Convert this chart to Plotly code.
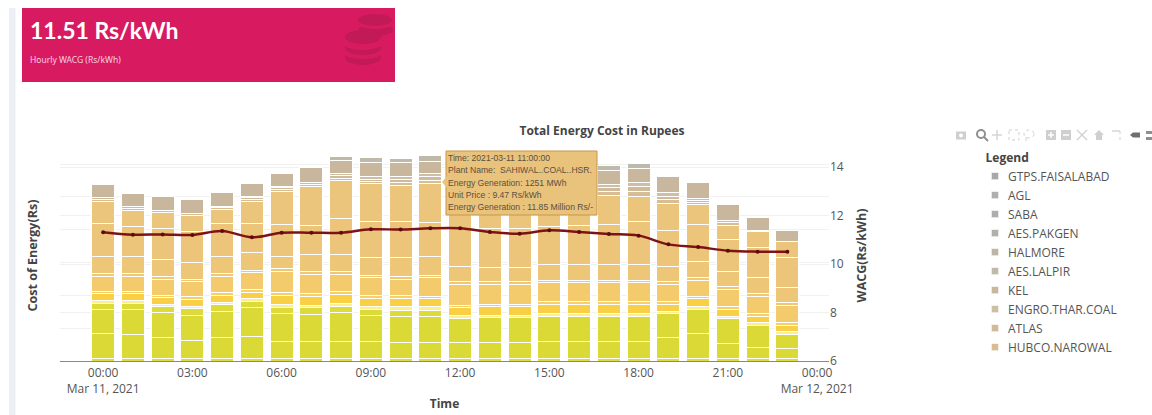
import pandas as pd
import plotly.graph_objects as go

# Page geometry in pixels
W, H = 1152, 415
L, R, T, B = 60, 829, 150, 361


def xp(px):
    return (px - L) / (R - L)


def yp(py):
    return (B - py) / (B - T)


hours = list(pd.date_range("2021-03-11 00:00", periods=24, freq="h"))

# Hourly weighted average cost of generation, Rs/kWh
wacg = [11.31, 11.21, 11.22, 11.20, 11.36, 11.10, 11.29, 11.29, 11.29, 11.43, 11.42, 11.47,
        11.47, 11.32, 11.25, 11.39, 11.32, 11.24, 11.17, 10.81, 10.70, 10.55, 10.51, 10.51]

# Hourly energy cost per plant, Million Rs, stack order bottom to top
base_a = [0.81] * 24
base_b = [7.51, 7.31, 6.29, 5.58, 6.29, 6.80, 5.28, 5.28, 5.28, 5.08, 4.77, 4.77,
          4.77, 4.77, 4.77, 5.28, 5.28, 5.28, 5.28, 6.29, 7.51, 4.57, 3.25, 3.05]
base_c = [7.41, 7.61, 7.61, 7.61, 8.12, 8.63, 8.32, 8.12, 8.63, 7.82, 8.12, 8.12,
          7.51, 7.61, 7.61, 7.41, 7.41, 7.41, 7.41, 7.31, 7.31, 7.51, 6.90, 4.26]
base_d = [1.83, 1.83, 1.83, 2.03, 1.93, 1.83, 2.03, 2.03, 2.03, 1.83, 1.73, 1.83,
          0, 0, 0, 0, 0, 0, 0, 0, 0, 0, 0, 0]
pale = [0.91, 0.91, 0.71, 0.71, 0.81, 1.02, 0.81, 0.81, 0.71, 0.91, 1.02, 1.02,
        0.71, 0.81, 0.81, 1.02, 1.02, 1.02, 1.02, 0.61, 0.91, 0.81, 0.71, 0.81]
gold = [2.03, 2.03, 2.03, 2.03, 2.03, 1.73, 2.84, 2.74, 2.84, 2.64, 2.64, 2.44,
        2.44, 2.54, 2.54, 2.74, 2.74, 2.74, 2.74, 2.23, 2.44, 2.03, 2.03, 2.03]
thin_a = [0.81] * 24
amber = [4.57, 4.57, 4.77, 4.57, 5.08, 5.28, 6.50, 5.79, 5.28, 5.48, 4.97, 5.58,
         6.29, 5.99, 5.99, 5.79, 5.79, 5.79, 5.79, 5.28, 4.87, 5.28, 5.28, 5.28]
thin_b = [0.81] * 24
sand_a = [5.08, 5.28, 5.28, 4.97, 5.28, 5.28, 3.76, 5.28, 5.28, 5.28, 5.79, 5.79,
          4.77, 4.47, 4.47, 4.77, 4.77, 4.77, 4.77, 4.77, 4.97, 4.77, 4.77, 4.47]
sand_b = [10.15, 9.14, 9.44, 9.64, 9.85, 8.93, 9.64, 8.83, 10.86, 11.17, 11.17, 10.15,
          11.47, 11.78, 11.78, 11.68, 11.98, 12.18, 13.20, 10.86, 11.17, 9.64, 9.14, 9.14]
sahiwal = [6.60, 4.87, 4.77, 4.77, 4.37, 6.60, 9.95, 11.78, 11.68, 11.37, 10.96, 11.85,
           11.90, 11.80, 11.70, 11.60, 11.00, 8.83, 7.61, 8.12, 6.09, 4.26, 4.87, 4.87]
hubco_narowal = [0.70, 0.60, 0.71, 0.71, 0.60, 0.70, 0.70, 0.70, 0.70, 0.70, 0.90, 1.10,
                 0.90, 0.90, 0.90, 0.90, 0.90, 1.20, 1.50, 1.20, 0.70, 0.80, 0.41, 0.20]
atlas = [0.52, 0.42, 0, 0, 0.42, 0.50, 0.50, 0.72, 0.70, 0.70, 0.80, 1.00,
         0.90, 0.80, 0.80, 0.80, 0.80, 1.10, 1.40, 1.10, 0.60, 0.72, 0, 0]
engro_thar = [0, 0, 0, 0, 0, 0.53, 0.53, 0, 0.63, 0.73, 0.84, 0.95,
              0.80, 0.80, 0.80, 0.80, 0.80, 1.05, 1.26, 1.05, 0.53, 0, 0, 0]
kel = [3.96, 3.96, 4.26, 4.26, 4.26, 3.85, 3.96, 4.36, 4.06, 4.26, 4.26, 3.85,
       4.26, 4.26, 4.26, 4.26, 4.26, 4.26, 4.16, 4.97, 4.97, 4.87, 3.85, 3.25]
aes_lalpir = [0, 0, 0, 0, 0, 0, 0, 0, 1.32, 1.52, 1.22, 1.73,
              1.50, 1.50, 1.50, 1.50, 1.50, 1.52, 1.52, 0, 0, 0, 0, 0]
halmore = [0] * 24
aes_pakgen = [0] * 24
saba = [0] * 24
agl = [0] * 24
gtps_faisalabad = [0] * 24

# name, values, colour, listed in the legend
stack = [
    ("Base 1", base_a, "#dcdb3e", False),
    ("Base 2", base_b, "#dad935", False),
    ("Base 3", base_c, "#dad935", False),
    ("Base 4", base_d, "#dcdb3a", False),
    ("Mid 1", pale, "#fdf08c", False),
    ("Mid 2", gold, "#f9cf45", False),
    ("Mid 3", thin_a, "#f6d066", False),
    ("Mid 4", amber, "#f3ca6c", False),
    ("Mid 5", thin_b, "#f0c874", False),
    ("Mid 6", sand_a, "#eec678", False),
    ("Mid 7", sand_b, "#ecc57b", False),
    ("SAHIWAL..COAL..HSR.", sahiwal, "#ebc57c", False),
    ("HUBCO.NAROWAL", hubco_narowal, "#d6bd95", True),
    ("ATLAS", atlas, "#cfba9b", True),
    ("ENGRO.THAR.COAL", engro_thar, "#cdbfa5", True),
    ("KEL", kel, "#c8b69d", True),
    ("AES.LALPIR", aes_lalpir, "#bfb9a9", True),
    ("HALMORE", halmore, "#bdb6a8", True),
    ("AES.PAKGEN", aes_pakgen, "#b2b0ab", True),
    ("SABA", saba, "#adadaa", True),
    ("AGL", agl, "#aeaeae", True),
    ("GTPS.FAISALABAD", gtps_faisalabad, "#a8a8a8", True),
]

fig = go.Figure()
for name, values, colour, listed in stack:
    fig.add_bar(x=hours, y=values, name=name, showlegend=listed,
                marker=dict(color=colour, line=dict(color="white", width=1)))

fig.add_scatter(x=hours, y=wacg, yaxis="y2", mode="lines+markers", name="WACG", showlegend=False,
                line=dict(color="#7d1315", width=2.5, shape="spline"),
                marker=dict(color="#5c0c0e", size=4))

CARD = "#d81b60"
COIN = "#c21a56"


def flat(kind, x0, x1, y0, y1, colour, layer="below"):
    return dict(type=kind, xref="paper", yref="paper", layer=layer, x0=xp(x0), x1=xp(x1),
                y0=yp(y0), y1=yp(y1), fillcolor=colour, line=dict(width=0))


def stroke(points, colour, width=1.3, dash="solid", close=False, fill=None):
    d = " ".join(("M" if i == 0 else "L") + f" {xp(px)} {yp(py)}" for i, (px, py) in enumerate(points))
    shape = dict(type="path", xref="paper", yref="paper", layer="above", path=d + (" Z" if close else ""),
                 line=dict(color=colour, width=width, dash=dash))
    if fill:
        shape.update(fillcolor=fill, line=dict(width=0))
    return shape


shapes = [flat("rect", 9, 15.5, 8, 415, "#ecf0f5"), flat("rect", 22, 395, 8, 82, CARD)]

# Coin stacks inside the card: the rear stack first, then the front one
shapes += [
    flat("circle", 358, 393, 24, 36, COIN), flat("circle", 358, 393, 19, 29, CARD),
    flat("circle", 358, 392, 14, 26, COIN),
    flat("circle", 345, 381, 50, 65, COIN), flat("rect", 345, 381, 54, 58, COIN),
    flat("circle", 344, 382, 47, 59, CARD),
    flat("circle", 345, 381, 41, 55, COIN), flat("rect", 345, 381, 45, 49, COIN),
    flat("circle", 344, 382, 38, 50, CARD),
    flat("circle", 345, 381, 30, 44, COIN),
]

# Hover box with its pointer
shapes += [
    dict(type="rect", xref="paper", yref="paper", layer="above", x0=xp(446), x1=xp(597), y0=yp(151), y1=yp(215),
         fillcolor="#e9c27c", line=dict(color="#c9964a", width=1)),
    stroke([(447, 176), (442, 182), (447, 188)], "", close=True, fill="#e9c27c"),
]

# Toolbar icons along the top of the legend column
ICON = "#cfcfcf"
ACTIVE = "#8f8f8f"
shapes += [
    # camera
    flat("rect", 956, 966, 131.5, 139.5, ICON, "above"), flat("circle", 959, 963, 133.5, 137.5, "white", "above"),
    # magnifier (active)
    dict(type="circle", xref="paper", yref="paper", layer="above", x0=xp(977), x1=xp(985), y0=yp(130), y1=yp(138),
         fillcolor="white", line=dict(color=ACTIVE, width=2)),
    stroke([(984, 137), (988, 141)], ACTIVE, 2),
    # pan
    stroke([(992, 135), (1002, 135)], ICON), stroke([(997, 130), (997, 140)], ICON),
    # box select
    stroke([(1009, 130), (1019, 130), (1019, 140), (1009, 140)], ICON, 1, "dot", close=True),
    # lasso
    dict(type="circle", xref="paper", yref="paper", layer="above", x0=xp(1024), x1=xp(1034), y0=yp(130), y1=yp(138),
         line=dict(color=ICON, width=1, dash="dot")),
    stroke([(1026, 137), (1026, 141)], ICON, 1),
    # zoom in / zoom out
    flat("rect", 1046, 1056, 130, 140, ICON, "above"), stroke([(1048, 135), (1054, 135)], "white", 1.5),
    stroke([(1051, 132), (1051, 138)], "white", 1.5),
    flat("rect", 1061, 1071, 130, 140, ICON, "above"), stroke([(1063, 135), (1069, 135)], "white", 1.5),
    # autoscale
    stroke([(1077, 130), (1087, 140)], ICON), stroke([(1087, 130), (1077, 140)], ICON),
    # reset
    stroke([(1094, 135), (1099, 130), (1104, 135), (1102, 135), (1102, 140), (1096, 140), (1096, 135)], "",
           close=True, fill=ICON),
    # spikes
    stroke([(1112, 131), (1120, 131)], ICON), stroke([(1120, 131), (1120, 140)], ICON, 1, "dot"),
    # closest and compare data tags
    stroke([(1130, 135), (1133, 132.5), (1140, 132.5), (1140, 137.5), (1133, 137.5)], "", close=True, fill="#6f6f6f"),
    flat("rect", 1146, 1152, 131, 134, "#8f8f8f", "above"), flat("rect", 1146, 1152, 137, 140, "#8f8f8f", "above"),
]

tooltip_lines = ["Time: 2021-03-11 11:00:00",
                 "Plant Name:  SAHIWAL..COAL..HSR.",
                 "Energy Generation: 1251 MWh",
                 "Unit Price : 9.47 Rs/kWh",
                 "Energy Generation : 11.85 Million Rs/-"]

annotations = [
    dict(text="<b>11.51 Rs/kWh</b>", x=xp(28), y=yp(30), font=dict(family="Lato", size=23, color="white")),
    dict(text="Hourly WACG (Rs/kWh)", x=xp(28), y=yp(59), font=dict(family="Noto Sans", size=8.5, color="#f8cfe0")),
]
for i, line in enumerate(tooltip_lines):
    annotations.append(dict(text=line.replace("  ", "&nbsp;&nbsp;"), x=xp(446), y=yp(158 + 12.3 * i),
                            font=dict(family="Liberation Sans", size=8.6, color="#5a5040")))
for a in annotations:
    a.update(xref="paper", yref="paper", xanchor="left", yanchor="middle", showarrow=False)

fig.update_layout(
    width=W, height=H, margin=dict(l=L, r=W - R, t=T, b=H - B, autoexpand=False),
    paper_bgcolor="white", plot_bgcolor="white",
    font=dict(family="Open Sans", size=12, color="#555"),
    barmode="stack", bargap=0.22,
    title=dict(text="<b>Total Energy Cost in Rupees</b>", x=602 / W, xref="container", xanchor="center",
               y=1 - 131 / H, yref="container", yanchor="middle", font=dict(size=12, color="#444")),
    xaxis=dict(type="date", range=["2021-03-10 22:33", "2021-03-12 00:24"], dtick=10800000,
               showgrid=False, ticks="outside", ticklen=1, tickcolor="rgba(0,0,0,0)",
               title=dict(text="<b>Time</b>", standoff=3, font=dict(size=12, color="#444"))),
    yaxis=dict(range=[0, (B - T) / 3.283], dtick=10, showticklabels=False, gridcolor="#f1f1f1",
               zeroline=True, zerolinecolor="#888", zerolinewidth=1,
               title=dict(text="<b>Cost of Energy(Rs)</b>", standoff=18, font=dict(size=12.5, color="#444"))),
    yaxis2=dict(overlaying="y", side="right", range=[6, 6 + (B - T) / 24.25], dtick=2, showgrid=True,
                gridcolor="#f1f1f1", zeroline=False, tickfont=dict(size=12, color="#555"),
                title=dict(text="<b>WACG(Rs/kWh)</b>", standoff=14, font=dict(size=12.5, color="#444"))),
    legend=dict(x=xp(968), y=yp(146), xanchor="left", yanchor="top", traceorder="reversed", maxheight=400,
                title=dict(text="&nbsp;&nbsp;&nbsp;&nbsp;&nbsp;<b>Legend</b>", font=dict(size=12, color="#444")),
                font=dict(size=12, color="#555"), bgcolor="rgba(0,0,0,0)"),
    shapes=shapes, annotations=annotations,
)

# Legend swatches are drawn as small squares close to their labels
page_script = """
document.body.style.overflow = 'hidden';
document.querySelectorAll('.legend .legendpoints path').forEach(function (p) {
  p.setAttribute('transform', 'translate(27,0) scale(0.6)');
});
"""

fig.write_html("out.html", post_script=page_script, config=dict(displayModeBar=False, responsive=False))
